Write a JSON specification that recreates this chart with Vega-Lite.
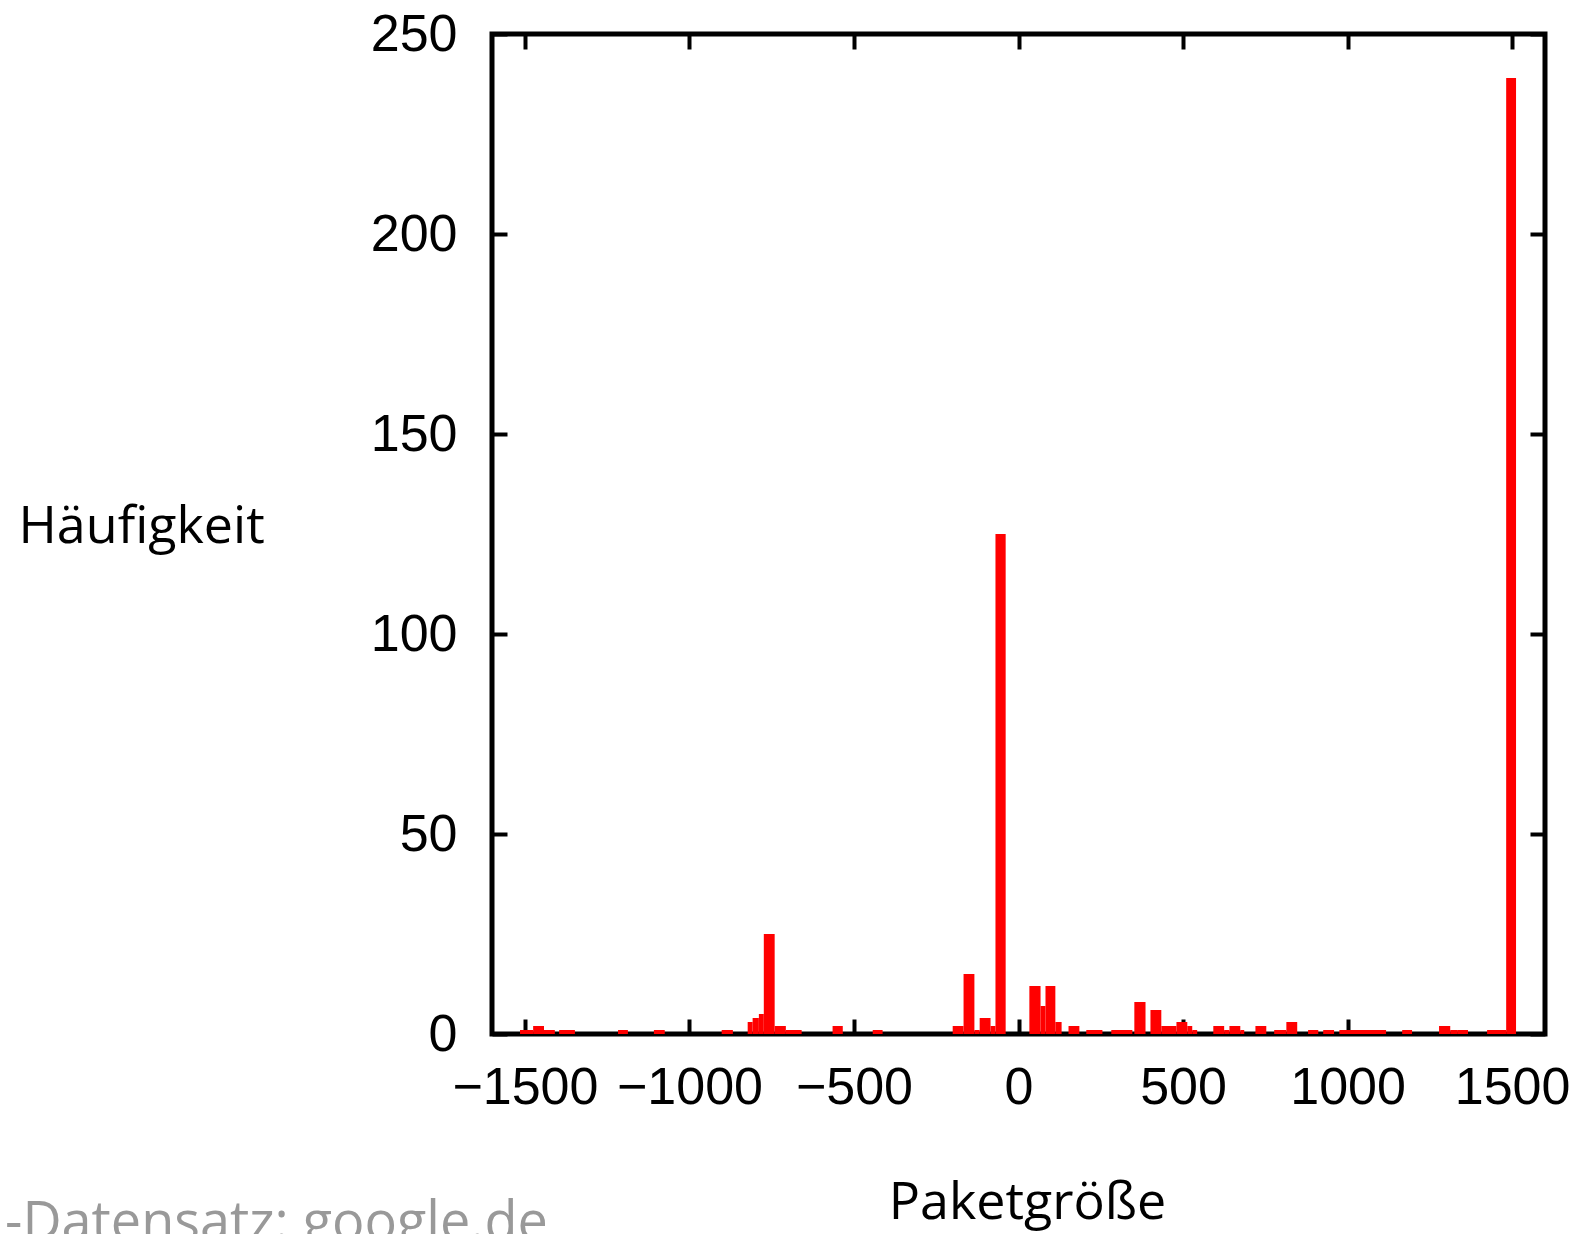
{
  "$schema": "https://vega.github.io/schema/vega-lite/v6.json",
  "width": 1053,
  "height": 1000,
  "autosize": {"type": "none"},
  "padding": {"left": 492, "top": 34, "right": 40, "bottom": 200},
  "background": "white",
  "config": {
    "view": {"stroke": "black", "strokeWidth": 5},
    "axis": {
      "domain": false,
      "grid": false,
      "tickColor": "black",
      "tickWidth": 4,
      "tickSize": -15,
      "labelFont": "Liberation Sans",
      "labelFontSize": 52,
      "labelColor": "black",
      "labelFlush": false,
      "labelOverlap": false,
      "titleFont": "Open Sans",
      "titleFontSize": 52,
      "titleFontWeight": "normal",
      "titleColor": "black"
    }
  },
  "data": {
    "values": [
      {"start": -1515, "end": -1475, "count": 1},
      {"start": -1475, "end": -1442, "count": 2},
      {"start": -1442, "end": -1409, "count": 1},
      {"start": -1396, "end": -1348, "count": 1},
      {"start": -1217, "end": -1187, "count": 1},
      {"start": -1108, "end": -1075, "count": 1},
      {"start": -902, "end": -868, "count": 1},
      {"start": -823, "end": -808, "count": 3},
      {"start": -808, "end": -789, "count": 4},
      {"start": -789, "end": -774, "count": 5},
      {"start": -774, "end": -741, "count": 25},
      {"start": -741, "end": -707, "count": 2},
      {"start": -707, "end": -659, "count": 1},
      {"start": -565, "end": -534, "count": 2},
      {"start": -443, "end": -413, "count": 1},
      {"start": -200, "end": -167, "count": 2},
      {"start": -167, "end": -134, "count": 15},
      {"start": -134, "end": -118, "count": 1},
      {"start": -118, "end": -85, "count": 4},
      {"start": -85, "end": -70, "count": 2},
      {"start": -70, "end": -39, "count": 125},
      {"start": 33, "end": 67, "count": 12},
      {"start": 67, "end": 82, "count": 7},
      {"start": 82, "end": 112, "count": 12},
      {"start": 112, "end": 131, "count": 3},
      {"start": 152, "end": 185, "count": 2},
      {"start": 206, "end": 255, "count": 1},
      {"start": 282, "end": 346, "count": 1},
      {"start": 352, "end": 386, "count": 8},
      {"start": 401, "end": 434, "count": 6},
      {"start": 434, "end": 480, "count": 2},
      {"start": 480, "end": 513, "count": 3},
      {"start": 513, "end": 528, "count": 2},
      {"start": 528, "end": 543, "count": 1},
      {"start": 592, "end": 625, "count": 2},
      {"start": 625, "end": 641, "count": 1},
      {"start": 641, "end": 674, "count": 2},
      {"start": 674, "end": 686, "count": 1},
      {"start": 720, "end": 753, "count": 2},
      {"start": 777, "end": 814, "count": 1},
      {"start": 814, "end": 847, "count": 3},
      {"start": 880, "end": 911, "count": 1},
      {"start": 926, "end": 959, "count": 1},
      {"start": 975, "end": 1117, "count": 1},
      {"start": 1166, "end": 1196, "count": 1},
      {"start": 1278, "end": 1312, "count": 2},
      {"start": 1312, "end": 1333, "count": 1},
      {"start": 1333, "end": 1366, "count": 1},
      {"start": 1424, "end": 1482, "count": 1},
      {"start": 1482, "end": 1512, "count": 239}
    ]
  },
  "layer": [
    {
      "mark": {"type": "bar", "color": "#ff0000"},
      "encoding": {
        "x": {
          "field": "start",
          "type": "quantitative",
          "scale": {"domain": [-1600, 1600], "nice": false, "zero": false},
          "axis": {
            "orient": "bottom",
            "values": [-1500, -1000, -500, 0, 500, 1000, 1500],
            "format": "d",
            "labelPadding": 43,
            "title": "Paketgröße",
            "titleX": 535,
            "titleAlign": "center",
            "titleY": 184,
            "titleBaseline": "alphabetic"
          }
        },
        "x2": {"field": "end"},
        "y": {
          "field": "count",
          "type": "quantitative",
          "scale": {"domain": [0, 250], "nice": false},
          "axis": {
            "orient": "left",
            "values": [0, 50, 100, 150, 200, 250],
            "labelPadding": 50,
            "title": "Häufigkeit",
            "titleAngle": 0,
            "titleX": -474,
            "titleY": 492,
            "titleAlign": "left",
            "titleBaseline": "middle"
          }
        },
        "y2": {"datum": 0}
      }
    },
    {
      "mark": {"type": "bar", "opacity": 0},
      "encoding": {
        "x": {
          "field": "start",
          "type": "quantitative",
          "axis": {"orient": "top", "values": [-1500, -1000, -500, 0, 500, 1000, 1500], "labels": false, "title": null}
        },
        "x2": {"field": "end"},
        "y": {
          "field": "count",
          "type": "quantitative",
          "axis": {"orient": "right", "values": [0, 50, 100, 150, 200, 250], "labels": false, "title": null}
        },
        "y2": {"datum": 0}
      }
    }
  ],
  "resolve": {"axis": {"x": "independent", "y": "independent"}},
  "title": {
    "text": "-Datensatz: google.de",
    "orient": "bottom",
    "anchor": "start",
    "frame": "group",
    "dx": -487,
    "dy": -35,
    "font": "Open Sans",
    "fontSize": 54,
    "fontWeight": "normal",
    "color": "#999999"
  }
}
